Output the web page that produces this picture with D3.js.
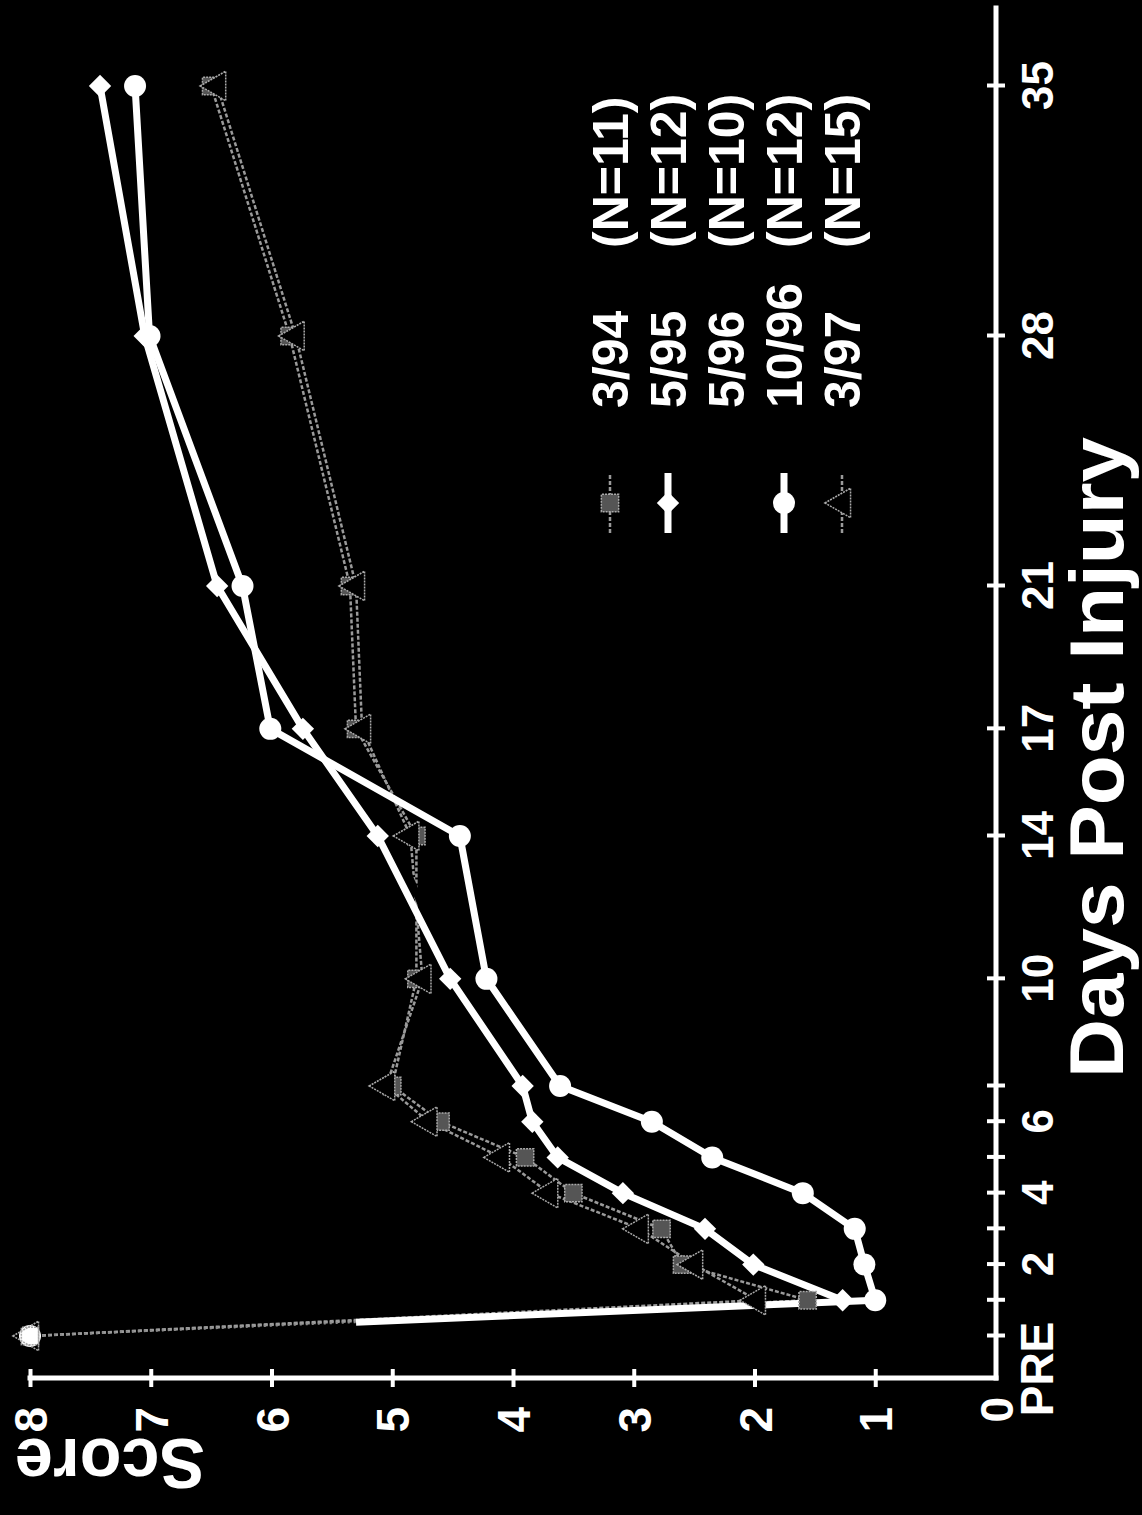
<!DOCTYPE html>
<html>
<head>
<meta charset="utf-8">
<script src="https://cdnjs.cloudflare.com/ajax/libs/d3/7.8.5/d3.min.js"></script>
<style>
  body { margin: 0; background: #000; }
  svg { display: block; }
  text { font-family: "Liberation Sans", Arial, Helvetica, sans-serif; font-weight: bold; fill: #fff; }
</style>
</head>
<body>
<div id="chart"></div>
<script>
// days after injury, PRE = 0
const days = [0, 1, 2, 3, 4, 5, 6, 7, 10, 14, 17, 21, 28, 35];
const dayTicks = [0, 1, 2, 3, 4, 5, 6, 7, 10, 14, 17, 21, 28, 35];
const dayTickLabels = ['', '', '2', '', '4', '', '6', '', '10', '14', '17', '21', '28', '35'];
const scoreTicks = [1, 2, 3, 4, 5, 6, 7, 8];

// scores
const score394 = [8, 1.56, 2.6, 2.77, 3.5, 3.9, 4.6, 5.0, 4.8, 4.8, 5.3, 5.35, 5.85, 6.5];
const score595 = [8, 1.27, 2.01, 2.41, 3.09, 3.63, 3.84, 3.92, 4.52, 5.12, 5.74, 6.45, 7.05, 7.42];
const score596 = [8, 1.2, 1.6, 2.0, 2.6, 3.2, 3.6, 4.0, 4.5, 5.0, 5.8, 6.3, 6.95, 7.0];
const score1096 = [8, 1.0, 1.09, 1.17, 1.6, 2.35, 2.85, 3.61, 4.22, 4.44, 6.01, 6.24, 7.01, 7.13];
const score397 = [8, 1.98, 2.5, 2.95, 3.7, 4.1, 4.7, 5.05, 4.75, 4.85, 5.25, 5.3, 5.8, 6.45];

const seriesNames = ['3/94', '5/95', '5/96', '10/96', '3/97'];
const seriesN = ['(N=11)', '(N=12)', '(N=10)', '(N=12)', '(N=15)'];
const seriesScores = [score394, score595, score596, score1096, score397];

const styles = {
    '3/94':  { color: '#9a9a9a', width: 2.5, dash: '4 2', marker: 'square', drop: 'full' },
    '5/95':  { color: '#ffffff', width: 7, dash: null, marker: 'diamond', drop: 'none' },
    '5/96':  { color: '#000000', width: 7, dash: null, marker: 'none', drop: 'none' },
    '10/96': { color: '#ffffff', width: 7, dash: null, marker: 'circle', drop: 'part' },
    '3/97':  { color: '#9a9a9a', width: 2.5, dash: '4 2', marker: 'triangle', drop: 'full' }
};
// white drop line PRE -> day 1 is only visible below this score
const dropVisibleScore = 5.3;

const W = 1142, H = 1515;

const svg = d3.select('#chart').append('svg')
    .attr('width', W)
    .attr('height', H);
svg.append('rect').attr('width', W).attr('height', H).attr('fill', '#000');

// the whole chart is drawn upright, then turned a quarter turn to the left
const g = svg.append('g')
    .attr('transform', `translate(0,${H}) rotate(-90)`);

const x = d3.scaleLinear().domain([0, 35]).range([179, 1429]);
const y = d3.scaleLinear().domain([0, 8]).range([996, 30]);
const axisX0 = 137;

const makeSeries = (name, i) => days.map((d, k) => ({ day: d, score: seriesScores[i][k], name }));
const allSeries = seriesNames.map(makeSeries);

const line = d3.line().x(d => x(d.day)).y(d => y(d.score));

const drawMarker = (sel, type, cx, cy, hollow) => {
    if (type === 'circle') {
        sel.append('circle').attr('cx', cx).attr('cy', cy).attr('r', 11).attr('fill', '#fff');
    } else if (type === 'diamond') {
        sel.append('path').attr('d', d3.symbol(d3.symbolSquare, 250)())
            .attr('transform', `translate(${cx},${cy}) rotate(45)`).attr('fill', '#fff');
    } else if (type === 'square') {
        sel.append('path').attr('d', d3.symbol(d3.symbolSquare, 300)())
            .attr('transform', `translate(${cx},${cy})`)
            .attr('fill', hollow ? 'none' : '#555').attr('stroke', '#aaa').attr('stroke-width', 1.5)
            .attr('stroke-dasharray', '2 1');
    } else if (type === 'triangle') {
        sel.append('path').attr('d', d3.symbol(d3.symbolTriangle, 380)())
            .attr('transform', `translate(${cx},${cy})`)
            .attr('fill', hollow ? 'none' : '#000').attr('stroke', '#aaa').attr('stroke-width', 1.5)
            .attr('stroke-dasharray', '2 1');
    }
};

// axes
const xAxis = d3.axisBottom(x)
    .tickValues(dayTicks)
    .tickFormat((d, i) => dayTickLabels[i])
    .tickSize(9);
const gx = g.append('g').attr('transform', `translate(0,${y(0)})`).call(xAxis);
gx.select('.domain').remove();
gx.selectAll('.tick line').attr('y1', -9).attr('y2', 9).attr('stroke', '#fff').attr('stroke-width', 4);
gx.selectAll('.tick text').attr('y', 57).attr('dy', null)
    .attr('font-size', 44).attr('fill', '#fff')
    .attr('font-family', '"Liberation Sans", Arial, sans-serif').attr('font-weight', 'bold');

const yAxis = d3.axisLeft(y).tickValues(scoreTicks).tickSize(9);
const gy = g.append('g').attr('transform', `translate(${axisX0},0)`).call(yAxis);
gy.select('.domain').remove();
gy.selectAll('.tick line').attr('x1', -9).attr('x2', 9).attr('stroke', '#fff').attr('stroke-width', 4);
gy.selectAll('.tick text').attr('x', -29).attr('dy', '0.36em')
    .attr('font-size', 46).attr('fill', '#fff')
    .attr('font-family', '"Liberation Sans", Arial, sans-serif').attr('font-weight', 'bold');

g.append('line')
    .attr('x1', axisX0).attr('x2', 1507).attr('y1', y(0)).attr('y2', y(0))
    .attr('stroke', '#fff').attr('stroke-width', 5).attr('stroke-linecap', 'square');
g.append('line')
    .attr('x1', axisX0).attr('x2', axisX0).attr('y1', y(0)).attr('y2', y(8))
    .attr('stroke', '#fff').attr('stroke-width', 5).attr('stroke-linecap', 'square');

g.append('text').attr('x', 146).attr('y', 1053).attr('text-anchor', 'middle')
    .attr('font-size', 46).text('PRE');
g.append('text').attr('x', 118).attr('y', y(0)).attr('dy', '0.36em').attr('text-anchor', 'end')
    .attr('font-size', 46).text('0');

g.append('text').attr('x', 437).attr('y', 1123)
    .attr('font-size', 76).attr('textLength', 641).attr('lengthAdjust', 'spacingAndGlyphs')
    .text('Days Post Injury');
g.append('text')
    .attr('transform', 'translate(76,110) rotate(-90)')
    .attr('text-anchor', 'middle')
    .attr('font-size', 70).attr('textLength', 190).attr('lengthAdjust', 'spacingAndGlyphs')
    .text('Score');

// lines: gray ones first, then the black and the white ones
const drawOrder = ['3/94', '3/97', '5/96', '5/95', '10/96'];
const plot = g.append('g');

drawOrder.forEach(name => {
    const s = allSeries[seriesNames.indexOf(name)];
    const st = styles[name];
    const post = s.filter(d => d.day > 0);
    const pre = s[0];
    const first = post[0];

    if (st.drop === 'full') {
        plot.append('path').attr('d', line([pre, first]))
            .attr('fill', 'none').attr('stroke', st.color).attr('stroke-width', st.width)
            .attr('stroke-dasharray', st.dash);
    } else if (st.drop === 'part') {
        // faint part near PRE, solid white part near day 1
        plot.append('path').attr('d', line([pre, first]))
            .attr('fill', 'none').attr('stroke', '#8a8a8a').attr('stroke-width', 2)
            .attr('stroke-dasharray', '2 4');
        const seg = plot.append('path').attr('d', line([first, pre]))
            .attr('fill', 'none').attr('stroke', st.color).attr('stroke-width', st.width);
        const len = seg.node().getTotalLength();
        const frac = (dropVisibleScore - first.score) / (pre.score - first.score);
        seg.attr('stroke-dasharray', `${len * frac} ${len}`);
    }

    plot.append('path').attr('d', line(post))
        .attr('fill', 'none')
        .attr('stroke', st.color)
        .attr('stroke-width', st.width)
        .attr('stroke-linejoin', 'round')
        .attr('stroke-dasharray', st.dash);

    if (st.marker === 'circle' || st.marker === 'diamond') {
        s.forEach(d => drawMarker(plot, st.marker, x(d.day), y(d.score)));
    }
});

// gray markers sit on top; at PRE only the outline shows
['3/94', '3/97'].forEach(name => {
    const s = allSeries[seriesNames.indexOf(name)];
    s.forEach(d => drawMarker(plot, styles[name].marker, x(d.day), y(d.score), d.day === 0));
});

// legend
const legend = g.append('g');
seriesNames.forEach((name, i) => {
    const st = styles[name];
    const cy = 610 + i * 58;
    legend.append('line')
        .attr('x1', 982).attr('x2', 1042).attr('y1', cy).attr('y2', cy)
        .attr('stroke', st.color).attr('stroke-width', st.width)
        .attr('stroke-dasharray', st.dash);
    drawMarker(legend, st.marker, 1012, cy);
    legend.append('text').attr('x', 1107).attr('y', cy + 18)
        .attr('font-size', 50).text(name);
    legend.append('text').attr('x', 1267).attr('y', cy + 18)
        .attr('font-size', 50).text(seriesN[i]);
});
</script>
</body>
</html>
